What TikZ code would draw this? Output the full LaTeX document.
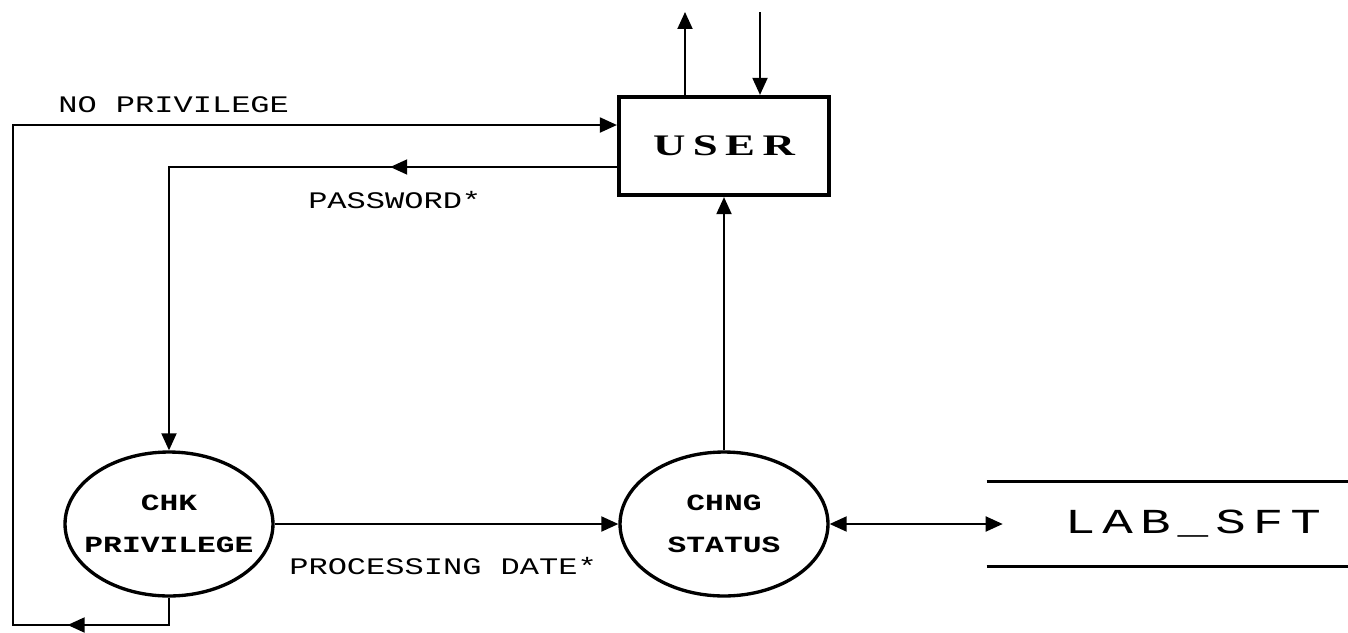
\documentclass[tikz,border=0pt]{standalone}
\usepackage{fontspec}
\usepackage{tikz}
\usetikzlibrary{arrows.meta, positioning, shapes.geometric, decorations.markings}

\newfontfamily\dotfont[FakeStretch=1.35]{Liberation Mono}
\newfontfamily\userfont[FakeStretch=1.5, LetterSpace=25]{Liberation Serif}
\newfontfamily\storefont[FakeStretch=1.45, LetterSpace=20]{Liberation Mono}

\tikzset{
    >={Triangle[length=0.34cm, width=0.3cm]},
    flow/.style={->, line width=1.1pt},
    biflow/.style={<->, line width=1.1pt},
    midarrow/.style={postaction={decorate},
        decoration={markings, mark=at position #1 with {\arrow{>}}}},
    entity/.style={rectangle, draw, line width=2.4pt, minimum width=4.2cm, minimum height=1.96cm,
        font=\userfont\bfseries\fontsize{17}{20}\selectfont},
    process/.style={ellipse, draw, line width=1.9pt, minimum width=4.16cm, minimum height=2.88cm,
        align=center, inner xsep=-0.8cm, inner ysep=0pt,
        font=\dotfont\bfseries\fontsize{13.2}{24}\selectfont},
    store/.style={rectangle, minimum width=7.22cm, minimum height=1.68cm},
    storeline/.style={line width=1.7pt},
    storename/.style={font=\storefont\fontsize{20}{22}\selectfont},
    flowlabel/.style={font=\dotfont\fontsize{13.5}{16}\selectfont, inner sep=0pt}
}

\begin{document}
\begin{tikzpicture}[x=0.02cm, y=-0.02cm]
    \useasboundingbox (0,0) rectangle (1348,632);

    % External entity
    \node[entity] (user) at (724,146) {USER\hspace{-0.25em}};

    % Processes
    \node[process] (chk) at (169,524) {CHK\\PRIVILEGE};
    \node[process] (chng) at (724,524) {CHNG\\STATUS};

    % Data store
    \node[store] (lab) at (1167.5,524) {};
    \node[storename] (labname) at (1193,524) {LAB\_SFT\hspace{-0.2em}};
    \draw[storeline] (lab.north west) -- (lab.north east);
    \draw[storeline] (lab.south west) -- (lab.south east);

    % Flows at the top of USER
    \coordinate (outtop) at (685,12);
    \coordinate (intop) at (760,12);
    \draw[flow] ([xshift=-0.78cm]user.north) -- (outtop);
    \draw[flow] (intop) -- (intop |- user.north);

    % Password
    \draw[flow, midarrow=0.31] ([yshift=-0.42cm]user.west) -| (chk.north)
        node[flowlabel, pos=0.248, yshift=-0.66cm] {PASSWORD*};

    % No privilege
    \coordinate (lowcorner) at (13,625);
    \draw[flow, midarrow=0.10] (chk.south) |- (lowcorner)
        |- node[flowlabel, pos=0.633, yshift=0.4cm] {NO PRIVILEGE} ([yshift=0.42cm]user.west);

    % Processing date
    \draw[flow] (chk.east) -- (chng.west)
        node[flowlabel, pos=0.49, yshift=-0.84cm] {PROCESSING DATE*};

    % Status to USER
    \draw[flow] (chng.north) -- (user.south);

    % Status to LAB_SFT
    \draw[biflow] (chng.east) -- ([xshift=0.32cm]lab.west);
\end{tikzpicture}
\end{document}
